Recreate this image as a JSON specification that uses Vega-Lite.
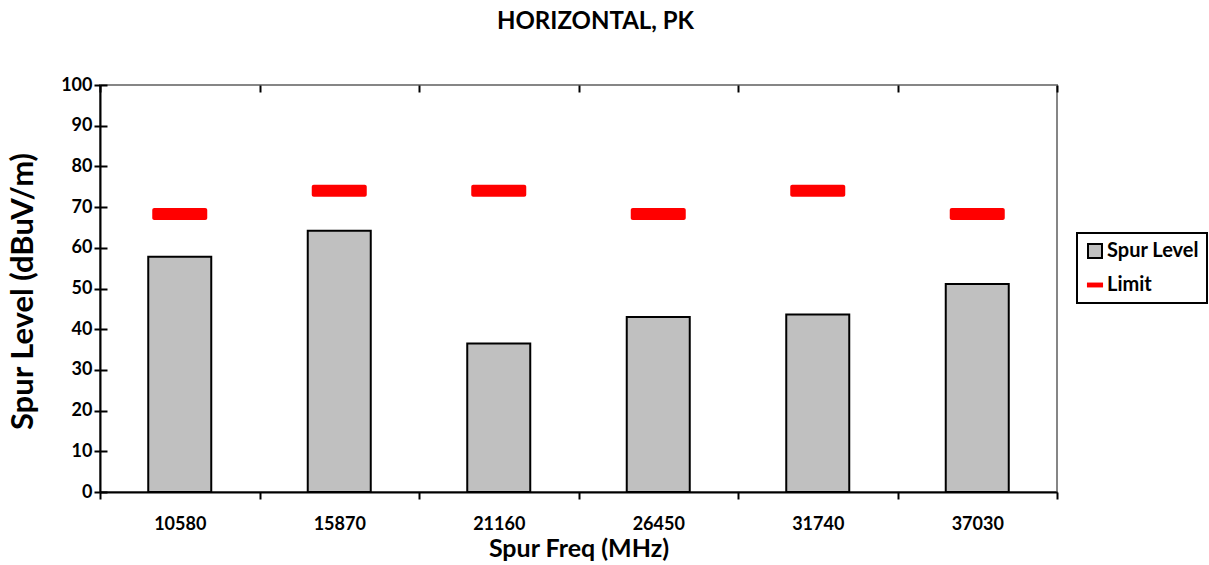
{
  "$schema": "https://vega.github.io/schema/vega-lite/v6.json",
  "autosize": {"type": "none"},
  "padding": {"left": 100, "top": 85, "right": 152, "bottom": 73},
  "width": 957,
  "height": 407,
  "background": "white",
  "title": {
    "text": "HORIZONTAL, PK",
    "frame": "group",
    "anchor": "middle",
    "baseline": "alphabetic",
    "offset": 23,
    "dx": 17,
    "font": "Lato",
    "fontSize": 24,
    "fontWeight": "bold",
    "color": "black"
  },
  "config": {
    "view": {"stroke": "#868686", "strokeWidth": 2},
    "font": "Lato",
    "axis": {
      "domainColor": "black",
      "domainWidth": 2,
      "tickColor": "black",
      "tickWidth": 2,
      "labelFont": "Lato",
      "labelFontWeight": "bold",
      "labelColor": "black",
      "titleFont": "Lato",
      "titleFontWeight": "bold",
      "titleColor": "black",
      "grid": false
    },
    "legend": {
      "symbolType": "square"
    }
  },
  "data": {
    "values": [
      {"freq": "10580", "level": 57.8, "limit": 68.3},
      {"freq": "15870", "level": 64.2, "limit": 74.0},
      {"freq": "21160", "level": 36.5, "limit": 74.0},
      {"freq": "26450", "level": 43.0, "limit": 68.3},
      {"freq": "31740", "level": 43.6, "limit": 74.0},
      {"freq": "37030", "level": 51.1, "limit": 68.3}
    ]
  },
  "resolve": {"axis": {"x": "independent", "y": "independent"}},
  "layer": [
    {
      "mark": {"type": "bar", "width": {"band": 0.395}, "stroke": "black", "strokeWidth": 2},
      "encoding": {
        "x": {
          "field": "freq",
          "type": "nominal",
          "sort": null,
          "scale": {"paddingInner": 0, "paddingOuter": 0},
          "axis": {
            "title": "Spur Freq (MHz)",
            "titleFontSize": 25,
            "titleX": 478.5,
            "titleY": 64,
            "titleBaseline": "alphabetic",
            "titleAlign": "center",
            "labelAngle": 0,
            "labelFontSize": 18,
            "labelPadding": 16,
            "tickSize": 7,
            "tickBand": "extent"
          }
        },
        "y": {
          "field": "level",
          "type": "quantitative",
          "scale": {"domain": [0, 100], "nice": false},
          "axis": {
            "title": "Spur Level (dBuV/m)",
            "titleFontSize": 31,
            "titleX": -77,
            "titleY": 206,
            "titleAngle": -90,
            "titleAlign": "center",
            "titleBaseline": "middle",
            "values": [0, 10, 20, 30, 40, 50, 60, 70, 80, 90, 100],
            "labelFontSize": 18,
            "labelPadding": 2,
            "tickSize": 6
          }
        },
        "color": {
          "datum": "Spur Level",
          "type": "nominal",
          "scale": {"domain": ["Spur Level", "Limit"], "range": ["#c0c0c0", "#ff0000"]},
          "legend": {
            "title": null,
            "orient": "none",
            "legendX": 977,
            "legendY": 148,
            "strokeColor": "black",
            "fillColor": "white",
            "padding": 8,
            "symbolType": "square",
            "symbolSize": 196,
            "symbolStrokeWidth": 2,
            "symbolStrokeColor": "black",
            "labelFont": "Lato",
            "labelFontSize": 20,
            "labelFontWeight": "bold",
            "labelColor": "black",
            "labelOffset": 2,
            "rowPadding": 13,
            "encode": {
              "symbols": {
                "update": {
                  "shape": {"signal": "datum.label === 'Limit' ? 'M-1.15,-0.35H1.15V0.35H-1.15Z' : 'square'"},
                  "strokeOpacity": {"signal": "datum.label === 'Limit' ? 0 : 1"},
                  "fillOpacity": {"value": 1}
                }
              },
              "legend": {"update": {"strokeWidth": {"value": 2}}}
            }
          }
        }
      }
    },
    {
      "mark": {"type": "tick", "thickness": 12, "size": 55, "cornerRadius": 2, "opacity": 1},
      "encoding": {
        "x": {
          "field": "freq",
          "type": "nominal",
          "sort": null,
          "axis": {
            "title": null,
            "labels": false,
            "domain": false,
            "tickSize": -7,
            "tickBand": "extent"
          }
        },
        "y": {
          "field": "limit",
          "type": "quantitative",
          "axis": {
            "title": null,
            "labels": false,
            "domain": false,
            "orient": "left",
            "values": [0, 10, 20, 30, 40, 50, 60, 70, 80, 90, 100],
            "tickSize": -7
          }
        },
        "color": {
          "datum": "Limit",
          "type": "nominal",
          "legend": {
            "title": null,
            "orient": "none",
            "legendX": 977,
            "legendY": 148,
            "strokeColor": "black",
            "fillColor": "white",
            "padding": 8,
            "symbolType": "square",
            "symbolSize": 196,
            "symbolStrokeWidth": 2,
            "symbolStrokeColor": "black",
            "labelFont": "Lato",
            "labelFontSize": 20,
            "labelFontWeight": "bold",
            "labelColor": "black",
            "labelOffset": 2,
            "rowPadding": 13,
            "encode": {
              "symbols": {
                "update": {
                  "shape": {"signal": "datum.label === 'Limit' ? 'M-1.15,-0.35H1.15V0.35H-1.15Z' : 'square'"},
                  "strokeOpacity": {"signal": "datum.label === 'Limit' ? 0 : 1"},
                  "fillOpacity": {"value": 1}
                }
              },
              "legend": {"update": {"strokeWidth": {"value": 2}}}
            }
          }
        }
      }
    }
  ]
}
